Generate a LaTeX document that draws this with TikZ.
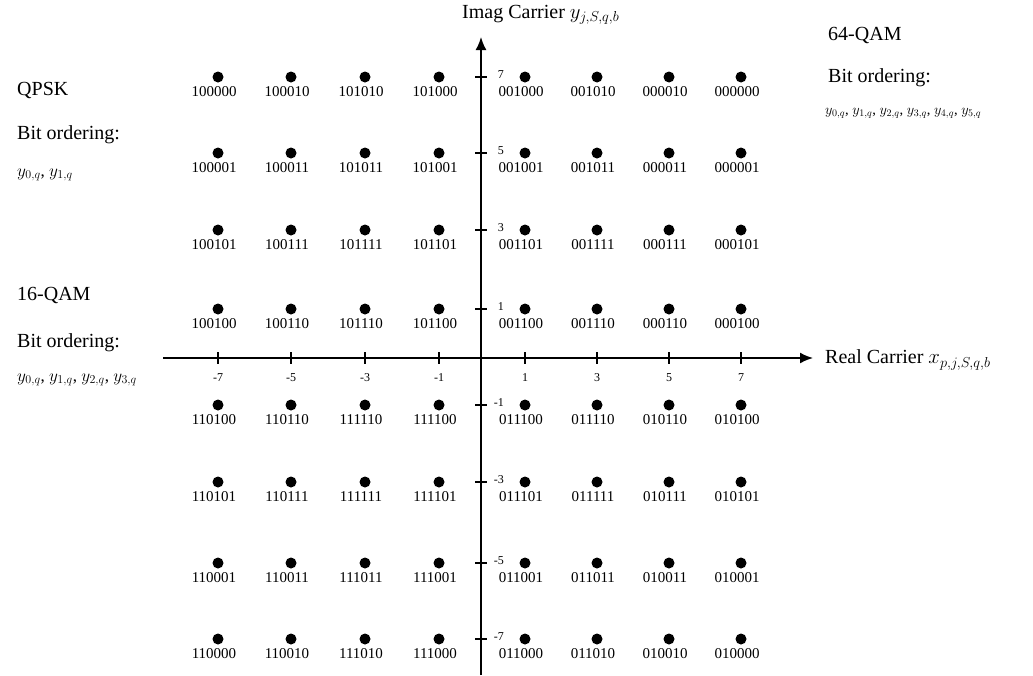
\documentclass[tikz,border=0pt]{standalone}
\usepackage{fontspec}
\setmainfont{Liberation Serif}
\usetikzlibrary{arrows.meta}
\begin{document}
\begin{tikzpicture}[x=1pt,y=-1pt,
  dotst/.style={circle,fill=black,inner sep=0pt,minimum size=11pt},
  labst/.style={font=\fontsize{15}{15}\selectfont,inner sep=0pt},
  tickst/.style={font=\fontsize{12}{12}\selectfont,inner sep=0pt},
  txt/.style={font=\fontsize{20}{22}\selectfont,anchor=west,inner sep=0pt},
  bitsst/.style={txt,font=\fontsize{17}{20}\selectfont},
  axisst/.style={line width=1.8pt,-{Latex[length=13pt,width=11pt]}},
  tk/.style={line width=1.5pt}]
\useasboundingbox (0,0) rectangle (1033,675);
\fill[white] (0,0) rectangle (1033,675);
% axes
\coordinate (yb) at (481,675);
\coordinate (yt) at (481,37);
\coordinate (xl) at (163,358);
\coordinate (xr) at (813,358);
\draw[axisst] (yb) -- (yt);
\draw[axisst] (xl) -- (xr);
% x ticks
\foreach \v/\px in {-7/218,-5/291,-3/365,-1/439,1/525,3/597,5/669,7/741}{
  \coordinate (xa\v) at (\px,352);
  \coordinate (xb\v) at (\px,364);
  \draw[tk] (xa\v) -- (xb\v);
  \node[tickst] (xt\v) at (\px,378) {\v};
}
% y ticks
\foreach \v/\py in {7/77,5/153,3/230,1/309,-1/405,-3/482,-5/563,-7/639}{
  \coordinate (ya\v) at (475,\py);
  \coordinate (yb\v) at (487,\py);
  \draw[tk] (ya\v) -- (yb\v);
  \node[tickst,anchor=east] (yt\v) at (504,\py-2) {\v};
}
% constellation points with bit labels
\foreach \i/\px in {-7/218,-5/291,-3/365,-1/439,1/525,3/597,5/669,7/741}{
  \foreach \q/\py in {7/77,5/153,3/230,1/309,-1/405,-3/482,-5/563,-7/639}{
    \pgfmathtruncatemacro\bitA{\i<0}
    \pgfmathtruncatemacro\bitB{\q<0}
    \pgfmathtruncatemacro\bitC{abs(\i)<4}
    \pgfmathtruncatemacro\bitD{abs(\q)<4}
    \pgfmathtruncatemacro\bitE{and(abs(\i)>2,abs(\i)<6)}
    \pgfmathtruncatemacro\bitF{and(abs(\q)>2,abs(\q)<6)}
    \node[dotst] (p\i\q) at (\px,\py) {};
    \node[labst] (l\i\q) at (\px-4,\py+15) {\bitA\bitB\bitC\bitD\bitE\bitF};
  }
}
% texts
\node[txt] (qpsk) at (17,90) {QPSK};
\node[txt] (bo1) at (17,135) {Bit ordering:};
\node[bitsst] (bits1) at (17,175) {$y_{0,q}$, $y_{1,q}$};
\node[txt] (qam16) at (17,295) {16-QAM};
\node[txt] (bo2) at (17,343) {Bit ordering:};
\node[bitsst] (bits2) at (17,380) {$y_{0,q}$, $y_{1,q}$, $y_{2,q}$, $y_{3,q}$};
\node[txt] (qam64) at (828,35) {64-QAM};
\node[txt] (bo3) at (828,78) {Bit ordering:};
\node[txt,font=\fontsize{14.5}{18}\selectfont] (bits3) at (825,113) {$y_{0,q}$, $y_{1,q}$, $y_{2,q}$, $y_{3,q}$, $y_{4,q}$, $y_{5,q}$};
\node[txt] (ylab) at (462,15) {Imag Carrier $y_{j,S,q,b}$};
\node[txt] (xlab) at (825,360) {Real Carrier $x_{p,j,S,q,b}$};
\end{tikzpicture}
\end{document}
